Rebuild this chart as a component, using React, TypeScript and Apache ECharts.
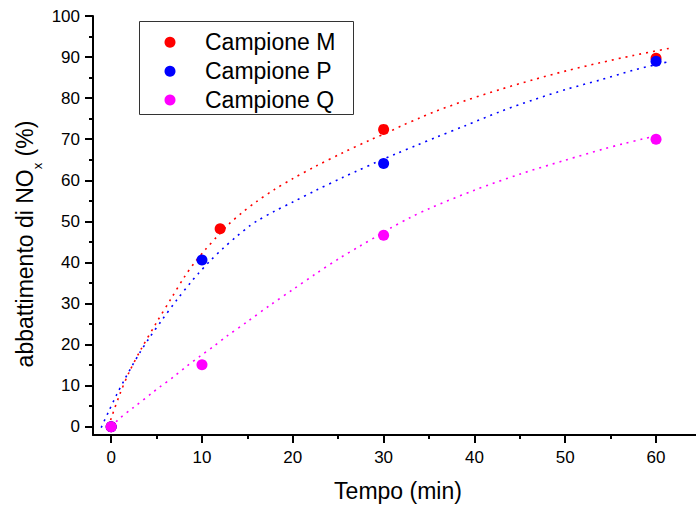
import React, { useEffect, useRef } from "react";
import * as echarts from "echarts";

const FONT = "'Liberation Sans', Arial, Helvetica, sans-serif";

// measured points
const tM = [0, 12, 30, 60];
const yM = [0, 48.2, 72.4, 89.7];
const tP = [0, 10, 30, 60];
const yP = [0, 40.6, 64.1, 89.0];
const tQ = [0, 10, 30, 60];
const yQ = [0, 15.1, 46.6, 70.0];

// fitted curves (t, y)
const fitM: number[][] = [
  [-0.3, 0], [0.1, 2.7], [1, 8.2], [2, 13.4], [3.3, 18.9], [5, 25.4], [6.6, 31.2],
  [8.1, 36.6], [9.2, 40.0], [10.4, 43.2], [11.7, 46.4], [13, 49.4], [14.4, 52.1],
  [16, 54.8], [18, 57.8], [20, 60.4], [22.5, 63.4], [25.5, 66.7], [28.5, 69.8],
  [30.7, 71.9], [32, 73.3], [34, 75.2], [35.6, 76.7], [39, 79.4], [42.8, 82.1],
  [46.5, 84.5], [50.2, 86.7], [53.8, 88.6], [57.5, 90.4], [61.4, 92.1],
];
const fitP: number[][] = [
  [-1.1, -0.2], [-0.3, 3.6], [0.6, 7.8], [1.5, 11.6], [2.3, 14.8], [3.2, 18.2],
  [4.1, 21.3], [5.6, 26.0], [7.2, 30.8], [8.85, 35.4], [9.6, 37.3], [10.9, 40.4],
  [12.3, 43.4], [13.8, 46.3], [15.25, 48.9], [16.05, 50.1], [18, 52.5], [20, 54.7],
  [22.5, 57.5], [25.5, 60.7], [27, 62.2], [29.2, 64.4], [31.4, 66.5], [33.6, 68.5],
  [35.8, 70.5], [39, 73.3], [42.8, 76.7], [46.5, 79.6], [50.2, 82.2], [53.8, 84.4],
  [57.5, 86.8], [61.4, 88.9],
];
const fitQ: number[][] = [
  [0, 0], [0.95, 2.1], [2.4, 4.6], [4.6, 8.4], [5.3, 9.6], [6.9, 12.2], [8.3, 14.7],
  [9.8, 17.2], [11.3, 19.6], [12.7, 22.0], [15, 25.6], [17.5, 29.6], [20, 33.4],
  [22.5, 37.2], [25.2, 41.1], [27.4, 44.0], [29.2, 46.3], [30.7, 48.3], [32.9, 50.9],
  [35.1, 53.2], [40, 57.6], [45, 61.5], [50, 64.9], [54.2, 67.6], [56.4, 68.9],
  [58.6, 70.1], [60.5, 71.1],
];

const names = ["Campione M", "Campione P", "Campione Q"];
const colors = ["#ff0000", "#0000ff", "#ff00ff"];

const xMajor = [0, 10, 20, 30, 40, 50, 60];
const xMinor = [5, 15, 25, 35, 45, 55];
const yMajor = [0, 10, 20, 30, 40, 50, 60, 70, 80, 90, 100];
const yMinor = [5, 15, 25, 35, 45, 55, 65, 75, 85, 95];

export default function App() {
  const ref = useRef<HTMLDivElement>(null);
  useEffect(() => {
    if (!ref.current) return;
    const chart = echarts.init(ref.current, undefined, { renderer: "svg" });
    const axisCommon = {
      type: "value" as const,
      splitLine: { show: false },
    };
    const zip = (a: number[], b: number[]) => a.map((v, i) => [v, b[i]]);
    const fits = [fitM, fitP, fitQ];
    const pts = [zip(tM, yM), zip(tP, yP), zip(tQ, yQ)];
    const legendRows = [42.3, 71.2, 100];
    const legendGraphics: any[] = [
      {
        type: "rect",
        shape: { x: 139.5, y: 21.5, width: 214, height: 93 },
        style: { fill: "none", stroke: "#333", lineWidth: 1 },
        z: 10,
      },
    ];
    names.forEach((n, i) => {
      legendGraphics.push({
        type: "circle",
        shape: { cx: 170, cy: legendRows[i], r: 5.5 },
        style: { fill: colors[i] },
        z: 10,
      });
      legendGraphics.push({
        type: "text",
        x: 205,
        y: legendRows[i],
        style: {
          text: n,
          fontSize: 23,
          fontFamily: FONT,
          fill: "#000",
          align: "left",
          verticalAlign: "middle",
        },
        z: 10,
      });
    });
    chart.setOption({
      animation: false,
      backgroundColor: "#fff",
      textStyle: { fontFamily: FONT },
      grid: { left: 93, right: 0, top: 16, bottom: 78 },
      xAxis: [
        {
          ...axisCommon,
          min: -2,
          max: 64.4,
          position: "bottom",
          axisLine: { show: true, onZero: false, lineStyle: { color: "#000", width: 2 } },
          axisTick: { show: true, length: 8, customValues: xMajor, lineStyle: { color: "#000", width: 2 } },
          axisLabel: { customValues: xMajor, fontSize: 17, color: "#000", margin: 14, fontFamily: FONT },
        },
        {
          ...axisCommon,
          min: -2,
          max: 64.4,
          position: "bottom",
          axisLine: { show: false, onZero: false },
          axisTick: { show: true, length: 4, customValues: xMinor, lineStyle: { color: "#000", width: 2 } },
          axisLabel: { show: false },
        },
      ],
      yAxis: [
        {
          ...axisCommon,
          min: -2,
          max: 100,
          position: "left",
          axisLine: { show: true, onZero: false, lineStyle: { color: "#000", width: 2 } },
          axisTick: { show: true, length: 8, customValues: yMajor, lineStyle: { color: "#000", width: 2 } },
          axisLabel: { customValues: yMajor, fontSize: 17, color: "#000", margin: 13, fontFamily: FONT },
        },
        {
          ...axisCommon,
          min: -2,
          max: 100,
          position: "left",
          axisLine: { show: false, onZero: false },
          axisTick: { show: true, length: 4, customValues: yMinor, lineStyle: { color: "#000", width: 2 } },
          axisLabel: { show: false },
        },
      ],
      graphic: [
        ...legendGraphics,
        {
          type: "text",
          x: 398,
          y: 491,
          style: {
            text: "Tempo (min)",
            fontSize: 23,
            fontFamily: FONT,
            fill: "#000",
            align: "center",
            verticalAlign: "middle",
          },
        },
        {
          type: "text",
          x: 28.6,
          y: 244,
          rotation: Math.PI / 2,
          style: {
            text: "{a|abbattimento di NO}{s|x}{a| (%)}",
            fontFamily: FONT,
            fill: "#000",
            align: "center",
            verticalAlign: "middle",
            rich: {
              a: { fontSize: 23, lineHeight: 23, verticalAlign: "top", fontFamily: FONT, fill: "#000" },
              s: { fontSize: 13, padding: [17, 0, 0, 0], verticalAlign: "top", fontFamily: FONT, fill: "#000" },
            },
          },
        },
      ],
      series: [
        ...fits.map((d, i) => ({
          type: "line",
          name: names[i] + " fit",
          data: d,
          xAxisIndex: 0,
          yAxisIndex: 0,
          showSymbol: false,
          symbol: "none",
          smooth: 0.3,
          silent: true,
          z: 1,
          lineStyle: { color: colors[i], width: 1.6, type: [2, 5] },
        })),
        ...pts.map((d, i) => ({
          type: "scatter",
          name: names[i],
          data: d,
          xAxisIndex: 0,
          yAxisIndex: 0,
          symbol: "circle",
          symbolSize: 11,
          z: 3,
          itemStyle: { color: colors[i], opacity: 1 },
        })),
      ],
    });
    return () => chart.dispose();
  }, []);
  return (
    <div
      ref={ref}
      style={{ position: "absolute", left: 0, top: 0, width: 696, height: 513, background: "#fff" }}
    />
  );
}
